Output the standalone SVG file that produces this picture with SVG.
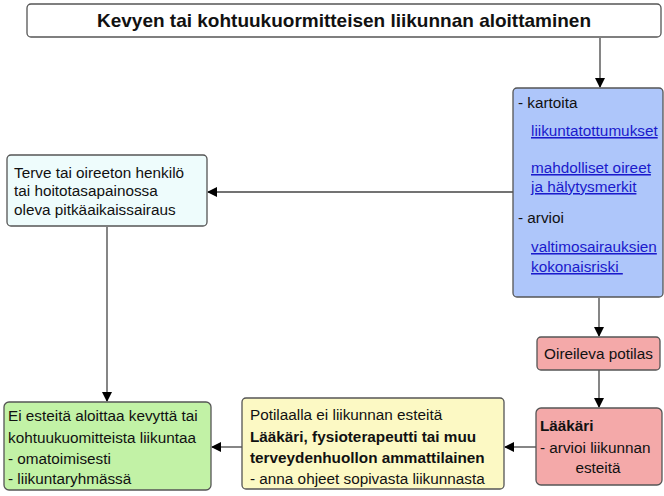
<svg xmlns="http://www.w3.org/2000/svg" width="664" height="496" viewBox="0 0 664 496">
<defs>
<marker id="ah" markerWidth="10" markerHeight="10" refX="9" refY="5" orient="auto" markerUnits="userSpaceOnUse">
<path d="M0,0 L10,5 L0,10 Z" fill="#000"/>
</marker>
<style>
.box{stroke:#555;stroke-width:1.3}
.t{font-family:"Liberation Sans",Arial,sans-serif;font-size:15.3px;fill:#111}
.b{font-weight:bold}
.h{font-size:19px}
.l{fill:#1a1acc;text-decoration:underline}
.c{stroke:#444;stroke-width:1.3;fill:none;marker-end:url(#ah)}
</style>
</defs>
<rect width="664" height="496" fill="#fff"/>
<g id="connectors">
<path class="c" d="M600,38 V87"/>
<path class="c" d="M513,192 H208"/>
<path class="c" d="M107,227 V401"/>
<path class="c" d="M599,298 V336"/>
<path class="c" d="M599,370 V407"/>
<path class="c" d="M536,447 H505"/>
<path class="c" d="M242,447 H212"/>
</g>
<g id="title">
<rect class="box" x="27" y="4" width="634" height="33" rx="4" fill="#fff"/>
<text class="t b h" x="344" y="27" text-anchor="middle">Kevyen tai kohtuukuormitteisen liikunnan aloittaminen</text>
</g>
<g id="kartoita">
<rect class="box" x="513" y="88" width="150" height="209" rx="4" fill="#aec6fa"/>
<text class="t" x="518" y="108">- kartoita</text>
<text class="t l" x="531" y="136">liikuntatottumukset</text>
<text class="t l" x="531" y="173">mahdolliset oireet</text>
<text class="t l" x="531" y="192">ja hälytysmerkit</text>
<text class="t" x="518" y="223">- arvioi</text>
<text class="t l" x="531" y="252">valtimosairauksien</text>
<text class="t l" x="531" y="272" xml:space="preserve">kokonaisriski </text>
</g>
<g id="terve">
<rect class="box" x="7" y="155" width="200" height="71" rx="4" fill="#eefcfc"/>
<text class="t" x="14" y="178">Terve tai oireeton henkilö</text>
<text class="t" x="14" y="196">tai hoitotasapainossa</text>
<text class="t" x="14" y="215">oleva pitkäaikaissairaus</text>
</g>
<g id="oireileva">
<rect class="box" x="537" y="337" width="123" height="33" rx="4" fill="#f4a9a9"/>
<text class="t" x="598.5" y="359" text-anchor="middle">Oireileva potilas</text>
</g>
<g id="laakari">
<rect class="box" x="536" y="408" width="126" height="77" rx="5" fill="#f4a9a9"/>
<text class="t b" x="540" y="431">Lääkäri</text>
<text class="t" x="540" y="453">- arvioi liikunnan</text>
<text class="t" x="598" y="473" text-anchor="middle">esteitä</text>
</g>
<g id="potilaalla">
<rect class="box" x="242" y="398" width="262" height="91" rx="4" fill="#fcf9c4"/>
<text class="t" x="250" y="420">Potilaalla ei liikunnan esteitä</text>
<text class="t b" x="250" y="442">Lääkäri, fysioterapeutti tai muu</text>
<text class="t b" x="250" y="463">terveydenhuollon ammattilainen</text>
<text class="t" x="250" y="484">- anna ohjeet sopivasta liikunnasta</text>
</g>
<g id="ei-esteita">
<rect class="box" x="4" y="402" width="207" height="88" rx="5" fill="#c2f2a6"/>
<text class="t" x="8" y="421">Ei esteitä aloittaa kevyttä tai</text>
<text class="t" x="8" y="443">kohtuukuomitteista liikuntaa</text>
<text class="t" x="8" y="464">- omatoimisesti</text>
<text class="t" x="8" y="484">- liikuntaryhmässä</text>
</g>
</svg>
